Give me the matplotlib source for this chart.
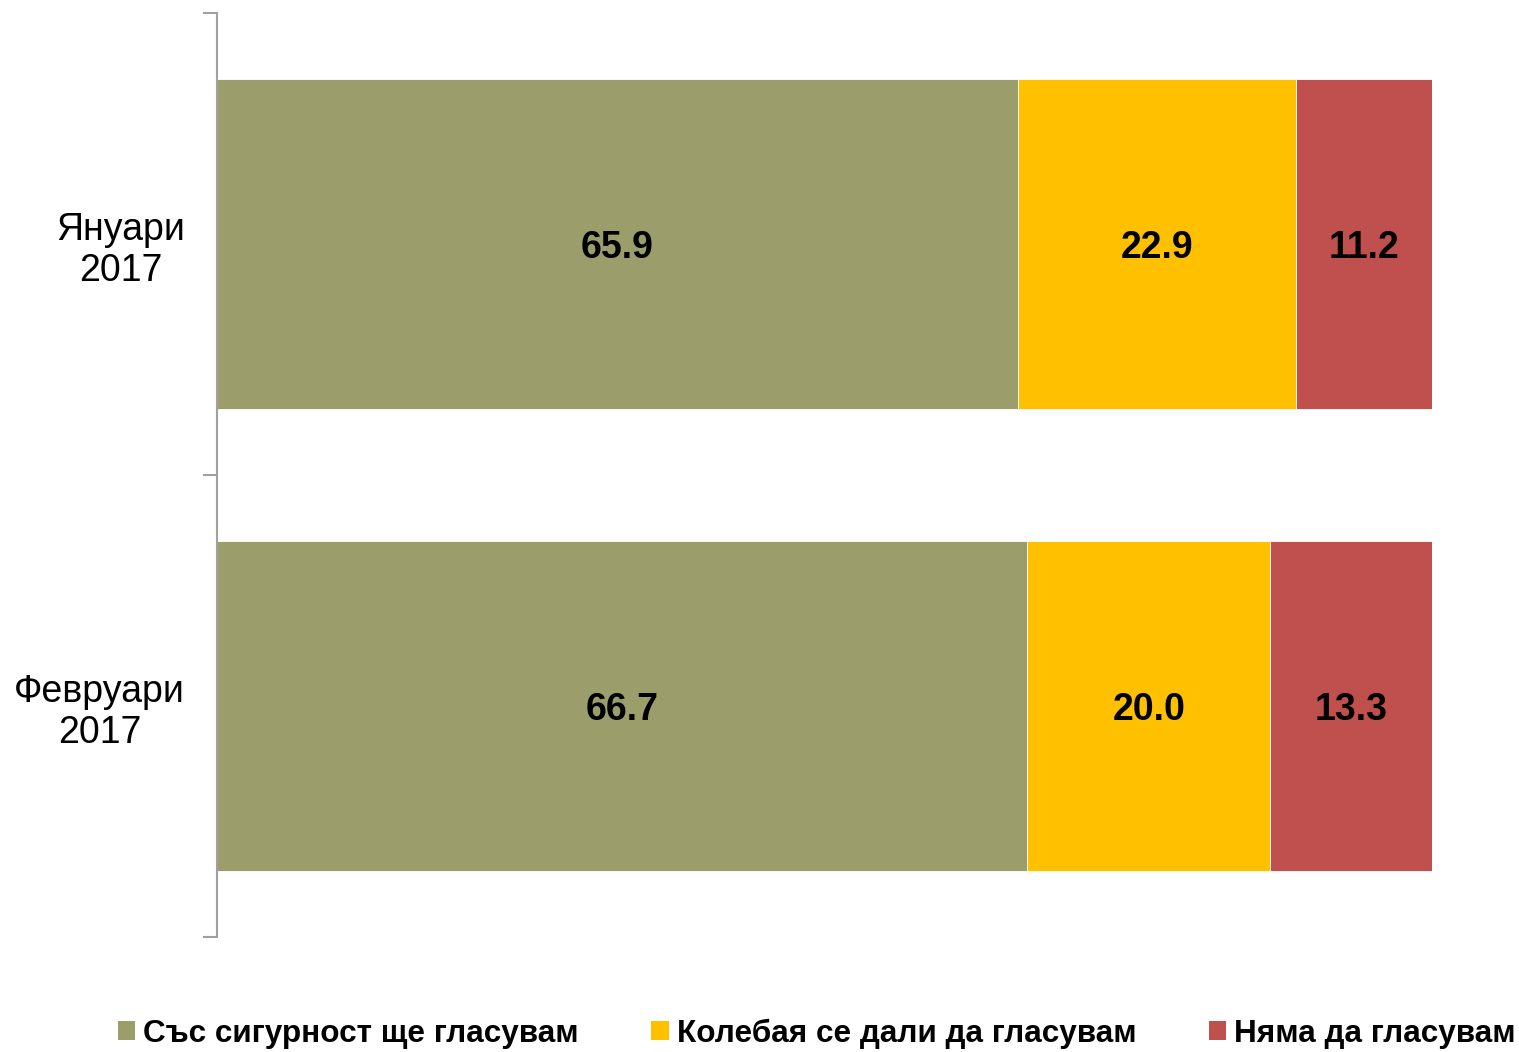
import matplotlib
matplotlib.use("Agg")
import matplotlib.pyplot as plt
import numpy as np

plt.rcParams['font.family'] = ['Liberation Sans', 'DejaVu Sans']

categories = ["Януари\n2017", "Февруари\n2017"]
series_names = ["Със сигурност ще гласувам", "Колебая се дали да гласувам", "Няма да гласувам"]
sure = [65.9, 66.7]
hesitant = [22.9, 20.0]
wont = [11.2, 13.3]
colors = ["#9B9E6B", "#FFC000", "#C0504D"]

fig = plt.figure(figsize=(15.19, 10.52), dpi=100)
ax = fig.add_axes([217 / 1519, 1 - 937 / 1052, 1215 / 1519, 924 / 1052])

y = np.arange(len(categories))
left = np.zeros(len(categories))
for name, vals, col in zip(series_names, [sure, hesitant, wont], colors):
    bars = ax.barh(y, vals, left=left, height=0.714, color=col, label=name,
                   edgecolor='white', linewidth=0.6)
    for b, v in zip(bars, vals):
        ax.text(b.get_x() + b.get_width() / 2, b.get_y() + b.get_height() / 2,
                f"{v:.1f}", ha='center', va='center_baseline', fontsize=27,
                fontweight='bold')
    left += np.array(vals)

ax.set_xlim(0, 100)
ax.set_ylim(len(categories) - 0.5, -0.5)

# boundary ticks on the spine, labels centred on categories
ax.set_yticks([-0.5, 0.5, 1.5])
ax.set_yticklabels([])
ax.tick_params(axis='y', which='major', length=10, color='#A0A0A0', width=1.5)
ax.set_yticks(y, minor=True)
ax.set_yticklabels(categories, minor=True, fontsize=27, multialignment='center',
                   linespacing=1.18)
ax.tick_params(axis='y', which='minor', length=0, pad=23)

ax.set_xticks([])
for s in ['top', 'right', 'bottom']:
    ax.spines[s].set_visible(False)
ax.spines['left'].set_color('#A0A0A0')
ax.spines['left'].set_linewidth(1.5)

leg = fig.legend(loc='lower left', bbox_to_anchor=(118 / 1519, 3 / 1052), ncol=3, frameon=False,
                 prop={'size': 22.7, 'weight': 'bold'}, handlelength=0.55, handleheight=0.55,
                 handletextpad=0.25, columnspacing=2.3, borderpad=0, borderaxespad=0)
for h in leg.legend_handles:
    h.set_edgecolor('none')

plt.savefig('out.png', dpi=100)
